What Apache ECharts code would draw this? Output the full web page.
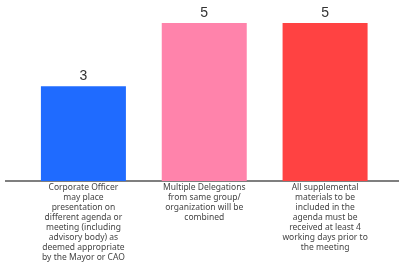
<!DOCTYPE html>
<html><head><meta charset="utf-8">
<script src="https://cdn.jsdelivr.net/npm/echarts@6/dist/echarts.min.js"></script>
<style>html,body{margin:0;padding:0;background:#fff}#c{width:399px;height:263px}</style>
</head><body><div id="c"></div>
<script>
const categories = [
  "Corporate Officer\nmay place\npresentation on\ndifferent agenda or\nmeeting (including\nadvisory body) as\ndeemed appropriate\nby the Mayor or CAO",
  "Multiple Delegations\nfrom same group/\norganization will be\ncombined",
  "All supplemental\nmaterials to be\nincluded in the\nagenda must be\nreceived at least 4\nworking days prior to\nthe meeting"
];
const values = [3, 5, 5];
const colors = ["#1F6BFF", "#FF83AB", "#FF4242"];

const chart = echarts.init(document.getElementById('c'), null, {renderer: 'canvas'});
chart.setOption({
  animation: false,
  grid: {left: 23, right: 13.5, top: 23, bottom: 82, containLabel: false},
  xAxis: {
    type: 'category', data: categories,
    axisLine: {show: false},
    axisTick: {show: false},
    axisLabel: {interval: 0, margin: 2, color: '#444', fontSize: 8.5, lineHeight: 10, fontFamily: 'Noto Sans', verticalAlign: 'top'}
  },
  yAxis: {type: 'value', min: 0, max: 5, show: false},
  graphic: [{type: 'line', shape: {x1: 5, y1: 181, x2: 399, y2: 181}, style: {stroke: '#555', lineWidth: 1.5}}],
  series: [{
    type: 'bar', barWidth: 85,
    data: values.map((v, i) => ({value: v, itemStyle: {color: colors[i]}})),
    label: {show: true, position: 'top', distance: 3, color: '#333', fontSize: 14, fontFamily: 'Liberation Sans'}
  }]
});
</script></body></html>
